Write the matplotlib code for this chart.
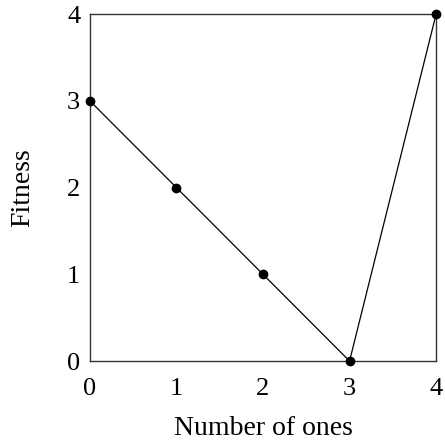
import matplotlib.pyplot as plt

plt.rcParams['font.family'] = ['Liberation Serif', 'DejaVu Serif']

ones = [0, 1, 2, 3, 4]
fitness = [3, 2, 1, 0, 4]

fig = plt.figure(figsize=(4.45, 4.43), dpi=100)
ax = fig.add_axes([0.202, 0.185, 0.778, 0.783])

ax.plot(ones, fitness, color='black', lw=0.9, marker='o', ms=6, clip_on=False, zorder=3)

ax.set_xlim(0, 4)
ax.set_ylim(0, 4)
ax.set_xticks(ones)
ax.set_yticks([0, 1, 2, 3, 4])
ax.tick_params(length=0, labelsize=19, pad=7)
ax.tick_params(axis='x', pad=12)
for s in ax.spines.values():
    s.set_linewidth(1.0)
    s.set_color('#333333')

ax.set_xlabel('Number of ones', fontsize=20, labelpad=12)
ax.set_ylabel('Fitness', fontsize=20, labelpad=23)

fig.savefig('out.png', dpi=100)
